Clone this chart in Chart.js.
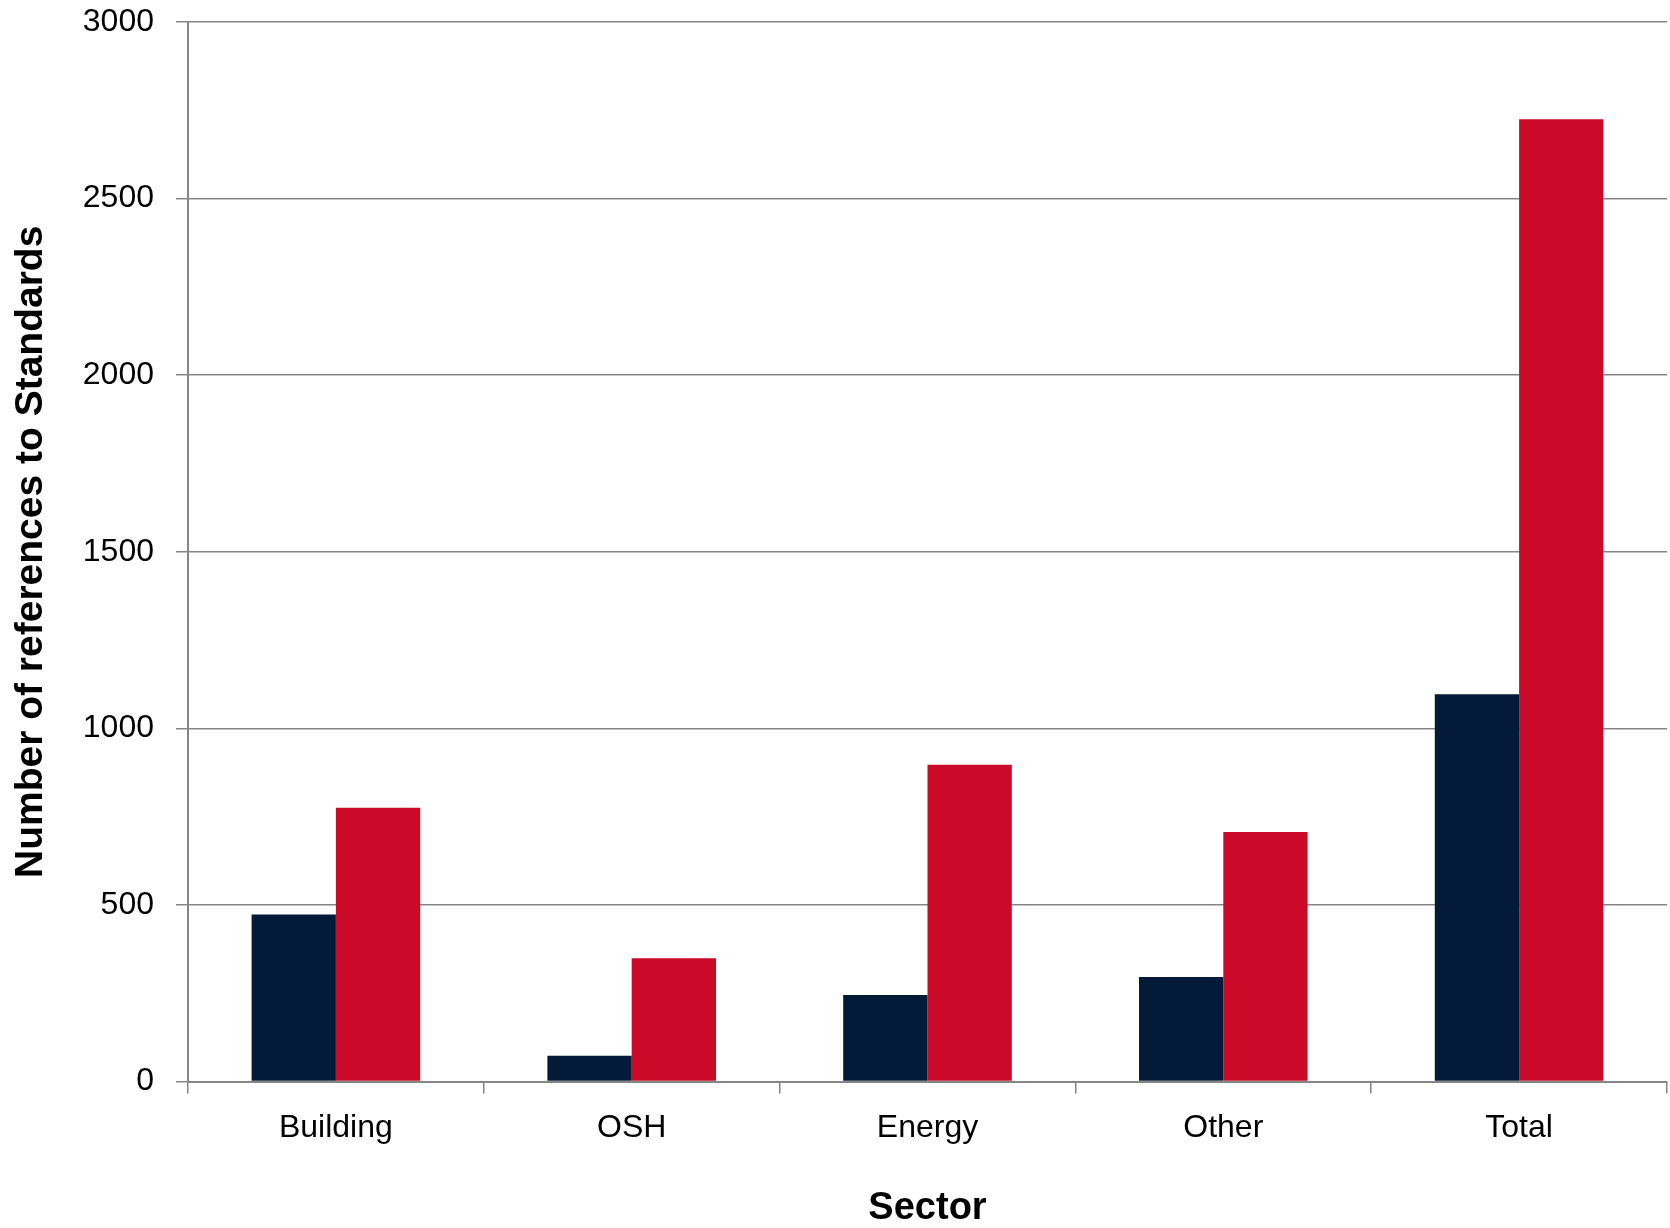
<!DOCTYPE html>
<html>
<head>
<meta charset="utf-8">
<script src="https://cdn.jsdelivr.net/npm/chart.js@4/dist/chart.umd.min.js"></script>
<style>
  html, body { margin: 0; padding: 0; background: #ffffff; }
  #wrap { width: 1670px; height: 1228px; position: relative; }
</style>
</head>
<body>
<div id="wrap"><canvas id="c" width="1670" height="1228"></canvas></div>
<script>
// Sectors and counts of references to standards
const sectors = ['Building', 'OSH', 'Energy', 'Other', 'Total'];
const seriesA = [473, 73, 245, 296, 1097];
const seriesB = [775, 349, 897, 707, 2725];
const yTicks = [0, 500, 1000, 1500, 2000, 2500, 3000];

const FONT = "'Liberation Sans Narrow', 'Arial Narrow', 'Liberation Sans', sans-serif";
const GRID = '#868686';

new Chart(document.getElementById('c'), {
  type: 'bar',
  data: {
    labels: sectors,
    datasets: [
      { label: 'A', data: seriesA, backgroundColor: '#031a39', borderWidth: 0 },
      { label: 'B', data: seriesB, backgroundColor: '#cb0a29', borderWidth: 0 }
    ]
  },
  options: {
    responsive: false,
    animation: false,
    devicePixelRatio: 1,
    layout: { padding: { top: 0, right: 3, bottom: 0, left: 8 } },
    plugins: { legend: { display: false }, tooltip: { enabled: false } },
    datasets: { bar: { categoryPercentage: 0.57, barPercentage: 1.0 } },
    scales: {
      x: {
        grid: { display: true, drawOnChartArea: false, drawTicks: true, tickLength: 12, color: GRID, lineWidth: 1.5 },
        border: { display: true, color: GRID, width: 2 },
        ticks: { color: '#000', font: { family: FONT, size: 32 }, padding: 15 },
        title: { display: true, text: 'Sector', color: '#000', font: { family: FONT, size: 38, weight: 'bold', lineHeight: 1.0 }, padding: { top: 28, bottom: 0 } }
      },
      y: {
        min: 0, max: 3000,
        afterBuildTicks: (scale) => { scale.ticks = yTicks.map(v => ({ value: v })); },
        // keep the top gridline close to the canvas edge
        afterFit: (scale) => { scale.paddingTop = 22; scale.paddingBottom = 0; },
        grid: { display: true, drawTicks: true, tickLength: 12, color: GRID, lineWidth: 1.5 },
        border: { display: true, color: GRID, width: 2 },
        ticks: { color: '#000', font: { family: FONT, size: 32 }, padding: 22, callback: (v) => String(v) },
        title: { display: true, text: 'Number of references to Standards', color: '#000', font: { family: FONT, size: 39, weight: 'bold' }, padding: { top: 0, bottom: 6 } }
      }
    }
  }
});
</script>
</body>
</html>
